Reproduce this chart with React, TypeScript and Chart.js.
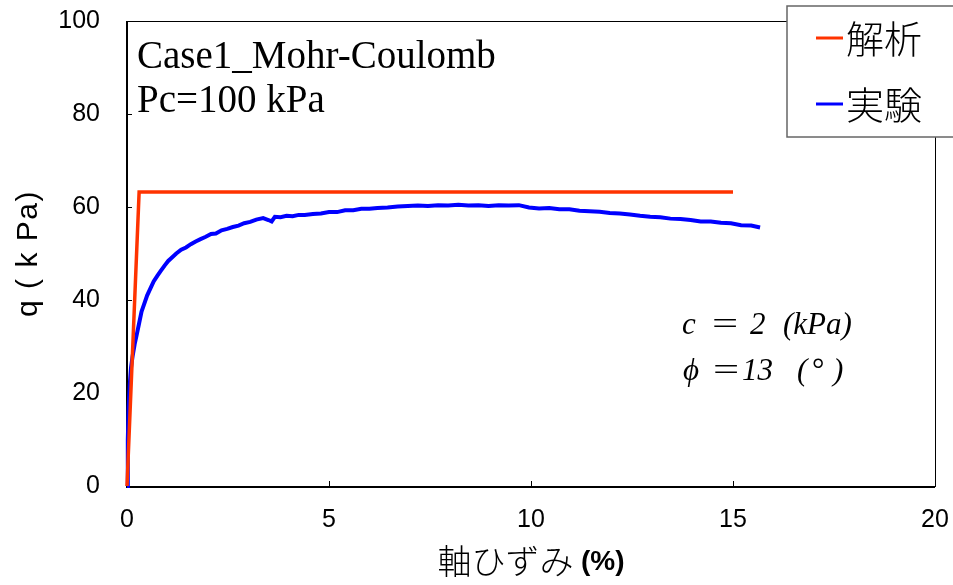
import React, { useEffect, useRef } from "react";
import { Chart, registerables } from "chart.js";
Chart.register(...registerables);

// 実験 (experiment) : axial strain (%) vs q (kPa)
const strainExp = [
  0, 0.02, 0.04, 0.07, 0.1, 0.14, 0.19, 0.24, 0.3, 0.36, 0.42, 0.5, 0.58, 0.66, 0.75, 0.84,
  0.93, 1.02, 1.12, 1.22, 1.34, 1.46, 1.58, 1.7, 1.82, 1.95, 2.08, 2.2, 2.34, 2.48, 2.62,
  2.76, 2.9, 3.05, 3.2, 3.37, 3.5, 3.58, 3.66, 3.8, 3.95, 4.1, 4.25, 4.4, 4.6, 4.8, 5.0, 5.2, 5.4,
  5.6, 5.8, 6.0, 6.2, 6.45, 6.7, 6.95, 7.2, 7.45, 7.7, 7.95, 8.2, 8.45, 8.7, 8.95, 9.2, 9.45,
  9.7, 9.95, 10.2, 10.45, 10.7, 10.95, 11.2, 11.45, 11.7, 11.95, 12.2, 12.45, 12.7, 12.95,
  13.2, 13.45, 13.7, 13.95, 14.2, 14.45, 14.7, 14.95, 15.2, 15.45, 15.67,
];
const qExp = [
  0, 10, 17, 22, 25.5, 28, 30.5, 32.5, 35, 37.5, 39, 41, 42.5, 44, 45.2, 46.3,
  47.4, 48.4, 49.2, 50, 50.8, 51.3, 52.0, 52.6, 53.1, 53.6, 54.2, 54.3, 55.0, 55.3, 55.7,
  56, 56.5, 56.8, 57.3, 57.6, 57.2, 56.9, 57.9, 57.8, 58.1, 58.0, 58.3, 58.3, 58.5, 58.6, 58.9, 58.9, 59.3,
  59.3, 59.6, 59.6, 59.8, 59.9, 60.1, 60.2, 60.3, 60.2, 60.4, 60.3, 60.5, 60.3, 60.4, 60.2, 60.4, 60.3,
  60.4, 59.9, 59.7, 59.8, 59.5, 59.5, 59.2, 59.1, 59.0, 58.7, 58.6, 58.4, 58.1, 57.9,
  57.8, 57.5, 57.4, 57.2, 56.9, 56.9, 56.6, 56.5, 56.1, 56.0, 55.6,
];

// 解析 (analysis)
const strainAna = [0, 0.3, 15];
const qAna = [0, 63.2, 63.2];

const xTicks = [0, 5, 10, 15, 20];
const yTicks = [0, 20, 40, 60, 80, 100];
const seriesNames = ["解析", "実験"];
const seriesColors = ["#FF3300", "#0000FF"];
const noteLines = ["Case1_Mohr-Coulomb", "Pc=100 kPa"];
const paramLine1 = ["c", "=", "2", "(kPa)"];
const paramLine2 = ["ϕ", "=", "13", "(", "°", ")"];
const xTitleJa = "軸ひずみ ";
const xTitleUnit = "(%)";
const yTitle = "q ( k Pa)";

const W = 953;
const H = 585;

const deco = {
  id: "deco",
  beforeDatasetsDraw(chart: any) {
    const { ctx, chartArea: a, scales } = chart;
    ctx.save();
    ctx.strokeStyle = "#000";
    ctx.lineWidth = 1;
    xTicks.forEach((v) => {
      if (v === xTicks[0] || v === xTicks[xTicks.length - 1]) return;
      const px = Math.round(scales.x.getPixelForValue(v)) + 0.5;
      ctx.beginPath();
      ctx.moveTo(px, a.bottom);
      ctx.lineTo(px, a.bottom - 5);
      ctx.stroke();
    });
    yTicks.forEach((v) => {
      if (v === yTicks[0] || v === yTicks[yTicks.length - 1]) return;
      const py = Math.round(scales.y.getPixelForValue(v)) + 0.5;
      ctx.beginPath();
      ctx.moveTo(a.left, py);
      ctx.lineTo(a.left + 5, py);
      ctx.stroke();
    });
    ctx.strokeRect(Math.round(a.left) + 0.5, Math.round(a.top) + 0.5, Math.round(a.right - a.left), Math.round(a.bottom - a.top));
    ctx.lineWidth = 2;
    ctx.beginPath();
    ctx.moveTo(Math.round(a.left), Math.round(a.top));
    ctx.lineTo(Math.round(a.left), Math.round(a.bottom) + 1);
    ctx.lineTo(Math.round(a.right), Math.round(a.bottom) + 1);
    ctx.stroke();
    ctx.restore();
  },
  afterDraw(chart: any) {
    const { ctx, chartArea: a } = chart;
    ctx.save();
    ctx.fillStyle = "#000";
    // note texts
    ctx.textAlign = "left";
    ctx.textBaseline = "alphabetic";
    ctx.font = "39px 'Liberation Serif', 'Times New Roman', serif";
    ctx.fillText(noteLines[0], a.left + 10, 68);
    ctx.fillText(noteLines[1], a.left + 10, 112);
    // params
    ctx.font = "italic 31px 'Liberation Serif', 'Times New Roman', serif";
    const drawPiece = (t: string, x: number, y: number) => {
      if (t === "=") {
        ctx.save();
        ctx.translate(x, y);
        ctx.scale(1.5, 1);
        ctx.fillText(t, 0, 0);
        ctx.restore();
      } else {
        ctx.fillText(t, x, y);
      }
    };
    const x1 = [682, 709, 750, 783];
    paramLine1.forEach((t, i) => drawPiece(t, x1[i], 334));
    const x2 = [683, 710, 742, 797, 811, 833];
    paramLine2.forEach((t, i) => drawPiece(t, x2[i], 380));
    // y title
    ctx.save();
    ctx.translate(29, (a.top + a.bottom) / 2);
    ctx.rotate(-Math.PI / 2);
    ctx.textAlign = "center";
    ctx.textBaseline = "middle";
    ctx.font = "30px 'Liberation Sans', Arial, sans-serif";
    (ctx as any).letterSpacing = "1.5px";
    ctx.fillText(yTitle, 0, 0);
    ctx.restore();
    // x title
    ctx.textBaseline = "middle";
    ctx.textAlign = "left";
    const jaFont = "300 34px 'Noto Sans CJK JP', sans-serif";
    const unitFont = "bold 28px 'Liberation Sans', Arial, sans-serif";
    ctx.font = jaFont;
    const w1 = ctx.measureText(xTitleJa).width;
    ctx.font = unitFont;
    const w2 = ctx.measureText(xTitleUnit).width;
    const x0 = (a.left + a.right) / 2 - (w1 + w2) / 2;
    ctx.font = jaFont;
    ctx.fillText(xTitleJa, x0, 561);
    ctx.font = unitFont;
    ctx.fillText(xTitleUnit, x0 + w1, 562);
    // legend
    ctx.fillStyle = "#fff";
    ctx.fillRect(787, 6, 180, 131);
    ctx.strokeStyle = "#666";
    ctx.lineWidth = 1.5;
    ctx.strokeRect(787, 6, 180, 131);
    const rowsY = [38, 104];
    seriesNames.forEach((name, i) => {
      ctx.strokeStyle = seriesColors[i];
      ctx.lineWidth = 3;
      ctx.beginPath();
      ctx.moveTo(816, rowsY[i]);
      ctx.lineTo(843, rowsY[i]);
      ctx.stroke();
      ctx.fillStyle = "#000";
      ctx.font = "300 38px 'Noto Sans CJK JP', sans-serif";
      ctx.textBaseline = "middle";
      ctx.fillText(name, 846, rowsY[i] + 1);
    });
    ctx.restore();
  },
};

export default function App() {
  const ref = useRef<HTMLCanvasElement | null>(null);
  useEffect(() => {
    if (!ref.current) return;
    const chart = new Chart(ref.current, {
      type: "scatter",
      data: {
        datasets: [
          {
            label: seriesNames[0],
            data: strainAna.map((x, i) => ({ x, y: qAna[i] })),
            showLine: true,
            borderColor: seriesColors[0],
            borderWidth: 3.5,
            pointRadius: 0,
            tension: 0,
            clip: false as any,
          },
          {
            label: seriesNames[1],
            data: strainExp.map((x, i) => ({ x, y: qExp[i] })),
            showLine: true,
            borderColor: seriesColors[1],
            borderWidth: 4,
            pointRadius: 0,
            tension: 0,
            clip: false as any,
          },
        ],
      },
      options: {
        responsive: false,
        animation: false,
        events: [],
        layout: { padding: { left: 0, top: 21, right: 18, bottom: 0 } },
        plugins: { legend: { display: false }, tooltip: { enabled: false }, title: { display: false } },
        scales: {
          x: {
            type: "linear",
            min: 0,
            max: 20,
            grid: { display: false, drawTicks: false },
            border: { display: false },
            ticks: {
              stepSize: 5,
              padding: 19,
              color: "#000",
              font: { family: "'Liberation Sans', Arial, sans-serif", size: 25 },
            },
            afterFit: (s: any) => {
              s.height = 99;
              s.paddingLeft = 0;
              s.paddingRight = 0;
            },
          },
          y: {
            type: "linear",
            min: 0,
            max: 100,
            grid: { display: false, drawTicks: false },
            border: { display: false },
            ticks: {
              stepSize: 20,
              padding: 27,
              color: "#000",
              font: { family: "'Liberation Sans', Arial, sans-serif", size: 25 },
            },
            afterFit: (s: any) => {
              s.width = 127;
              s.paddingTop = 0;
              s.paddingBottom = 0;
            },
          },
        },
      },
      plugins: [deco],
    });
    return () => chart.destroy();
  }, []);
  return (
    <div style={{ position: "fixed", left: 0, top: 0, width: W, height: H, background: "#fff", overflow: "hidden" }}>
      <canvas ref={ref} width={W} height={H} style={{ width: W, height: H, display: "block" }} />
    </div>
  );
}
